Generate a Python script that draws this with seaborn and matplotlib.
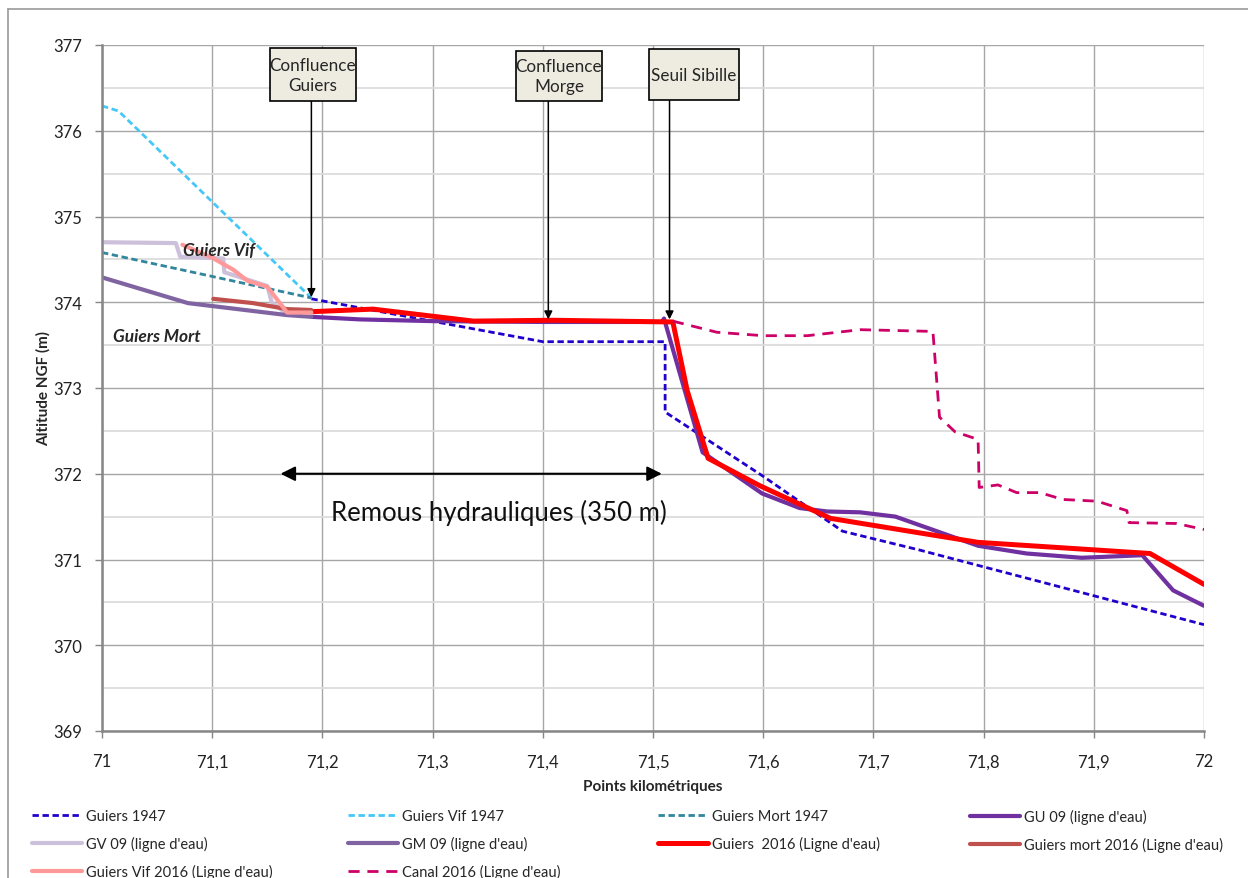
import numpy as np
import pandas as pd
import seaborn as sns
import matplotlib.pyplot as plt
from matplotlib.ticker import MultipleLocator, FuncFormatter
from matplotlib.lines import Line2D
from matplotlib.patches import Rectangle

# %% data
guiers_1947_pk = [71.19, 71.40, 71.511, 71.511, 71.60, 71.672, 71.742, 72.0]
guiers_1947_z = [374.04, 373.54, 373.54, 372.72, 371.97, 371.33, 371.11, 370.24]

vif_1947_pk = [71.0, 71.015, 71.19]
vif_1947_z = [376.29, 376.23, 374.05]

mort_1947_pk = [71.0, 71.19]
mort_1947_z = [374.58, 374.05]

gu09_pk = [71.19, 71.234, 71.30, 71.40, 71.508, 71.51, 71.545, 71.599, 71.633, 71.658,
           71.688, 71.72, 71.795, 71.839, 71.889, 71.944, 71.972, 72.0]
gu09_z = [373.83, 373.80, 373.78, 373.77, 373.77, 373.81, 372.25, 371.77, 371.60, 371.56,
          371.55, 371.50, 371.16, 371.07, 371.02, 371.05, 370.64, 370.46]

gv09_pk = [71.0, 71.067, 71.071, 71.110, 71.111, 71.150, 71.154, 71.166]
gv09_z = [374.70, 374.69, 374.53, 374.51, 374.35, 374.19, 374.0, 373.88]

gm09_pk = [71.0, 71.078, 71.168, 71.19]
gm09_z = [374.29, 373.99, 373.85, 373.83]

guiers_2016_pk = [71.19, 71.246, 71.337, 71.409, 71.518, 71.531, 71.55, 71.597, 71.661,
                  71.742, 71.795, 71.951, 72.0]
guiers_2016_z = [373.89, 373.92, 373.78, 373.79, 373.77, 372.97, 372.18, 371.86, 371.48,
                 371.31, 371.20, 371.07, 370.71]

mort_2016_pk = [71.101, 71.137, 71.168, 71.19]
mort_2016_z = [374.04, 373.99, 373.92, 373.91]

vif_2016_pk = [71.073, 71.100, 71.119, 71.132, 71.150, 71.168, 71.19]
vif_2016_z = [374.67, 374.52, 374.38, 374.25, 374.18, 373.88, 373.88]

canal_2016_pk = [71.518, 71.558, 71.60, 71.64, 71.688, 71.754, 71.76, 71.774, 71.795, 71.796,
                 71.813, 71.830, 71.851, 71.872, 71.903, 71.930, 71.932, 71.975, 72.0]
canal_2016_z = [373.78, 373.65, 373.61, 373.61, 373.68, 373.66, 372.66, 372.49, 372.40, 371.84,
                371.87, 371.78, 371.78, 371.70, 371.68, 371.57, 371.43, 371.42, 371.35]

series = [
    # label, pk, z, colour, width, dashes
    ("Guiers 1947", guiers_1947_pk, guiers_1947_z, "#2200cc", 2.0, (2.3, 1.3)),
    ("Guiers Vif 1947", vif_1947_pk, vif_1947_z, "#45c8f7", 2.0, (2.3, 1.3)),
    ("Guiers Mort 1947", mort_1947_pk, mort_1947_z, "#31859c", 2.0, (2.3, 1.3)),
    ("GU 09 (ligne d'eau)", gu09_pk, gu09_z, "#7030a0", 3.0, None),
    ("GV 09 (ligne d'eau)", gv09_pk, gv09_z, "#ccc0da", 3.0, None),
    ("GM 09 (ligne d'eau)", gm09_pk, gm09_z, "#8064a2", 3.0, None),
    ("Guiers  2016 (Ligne d'eau)", guiers_2016_pk, guiers_2016_z, "#ff0000", 3.6, None),
    ("Guiers mort 2016 (Ligne d'eau)", mort_2016_pk, mort_2016_z, "#c0504d", 3.0, None),
    ("Guiers Vif 2016 (Ligne d'eau)", vif_2016_pk, vif_2016_z, "#ff9999", 3.0, None),
    ("Canal 2016 (Ligne d'eau)", canal_2016_pk, canal_2016_z, "#cc0066", 2.0, (4.0, 2.8)),
]

# %% figure
sns.set_theme(style="white")
plt.rcParams['font.family'] = ['Lato', 'DejaVu Sans']

fig = plt.figure(figsize=(12.48, 8.79), dpi=100)
ax = fig.add_axes([102 / 1248, 1 - 732 / 879, (1204 - 102) / 1248, (732 - 46) / 879])

handles = {}
for label, pk, z, col, lw, dsh in series:
    df = pd.DataFrame({"pk": pk, "z": z})
    sns.lineplot(data=df, x="pk", y="z", ax=ax, color=col, linewidth=lw,
                 estimator=None, sort=False, legend=False)
    ln = ax.lines[-1]
    if dsh:
        ln.set_dashes(dsh)
    handles[label] = ln

ax.set_xlim(71, 72)
ax.set_ylim(369, 377)
ax.xaxis.set_major_locator(MultipleLocator(0.1))
ax.yaxis.set_major_locator(MultipleLocator(1))
ax.yaxis.set_minor_locator(MultipleLocator(0.5))
ax.xaxis.set_major_formatter(FuncFormatter(
    lambda v, p: f"{v:.1f}".rstrip("0").rstrip(".").replace(".", ",")))
ax.grid(which="major", axis="both", color="#a6a6a6", lw=1.0)
ax.grid(which="minor", axis="y", color="#dcdcdc", lw=1.3)
ax.set_axisbelow(True)
for s in ["top", "right"]:
    ax.spines[s].set_visible(False)
for s in ["left", "bottom"]:
    ax.spines[s].set_color("#868686")
    ax.spines[s].set_linewidth(1.8)
ax.tick_params(which="major", direction="out", length=5, width=1, color="#868686",
               labelsize=12, labelcolor="#222222", left=True, bottom=True)
ax.tick_params(axis="x", pad=11)
ax.tick_params(axis="y", pad=9)
ax.tick_params(which="minor", length=0)

ax.set_xlabel("Points kilométriques", fontsize=11, fontweight="bold")
ax.set_ylabel("Altitude NGF (m)", fontsize=11, fontweight="bold")
ax.xaxis.set_label_coords(0.5, -0.07)
ax.yaxis.set_label_coords(-0.047, 0.5)

# annotation boxes (x0, x1, y0, y1 in data units) with vertical arrows
notes = [
    ("Confluence\nGuiers", (71.1525, 71.2305, 376.345, 376.965), 71.19, 374.06),
    ("Confluence\nMorge", (71.3757, 71.4537, 376.345, 376.93), 71.405, 373.80),
    ("Seuil Sibille", (71.4964, 71.578, 376.357, 376.953), 71.515, 373.80),
]
for txt, (x0, x1, y0, y1), arr_x, arr_y in notes:
    ax.annotate("", xy=(arr_x, arr_y), xytext=(arr_x, y0),
                arrowprops=dict(arrowstyle="-|>", color="black", lw=1.1,
                                mutation_scale=12, shrinkA=0, shrinkB=0), zorder=5)
    ax.add_patch(Rectangle((x0, y0), x1 - x0, y1 - y0, fc="#eeece1", ec="black",
                           lw=1.2, zorder=6, clip_on=False))
    ax.text((x0 + x1) / 2, (y0 + y1) / 2, txt, ha="center", va="center",
            fontsize=12.3, linespacing=1.3, zorder=7)

ax.annotate("", xy=(71.162, 372.0), xytext=(71.508, 372.0),
            arrowprops=dict(arrowstyle="<|-|>", color="black", lw=1.5,
                            mutation_scale=22, shrinkA=0, shrinkB=0))
ax.text(71.36, 371.55, "Remous hydrauliques (350 m)", ha="center", va="center",
        fontsize=18.5, color="#111111")
ax.text(71.0735, 374.61, "Guiers Vif", fontsize=12.5, fontweight="bold",
        fontstyle="italic", va="center", ha="left")
ax.text(71.01, 373.61, "Guiers Mort", fontsize=12.5, fontweight="bold",
        fontstyle="italic", va="center", ha="left")

# legend: 4 fixed columns, row-major reading order as in the original
order = [label for label, *_ in series]
columns = [order[0::4], order[1::4], order[2::4], order[3::4]]
col_x = [32, 348, 658, 970]
for xs, labs in zip(col_x, columns):
    fig.legend([handles[l] for l in labs], labs, loc="upper left",
               bbox_to_anchor=(xs / 1248, 1 - 810 / 879), frameon=False,
               fontsize=10.5, handlelength=3.4, handletextpad=0.3,
               labelspacing=0.9, borderpad=0, borderaxespad=0)

# chart frame
fig.add_artist(Line2D([8 / 1248, 8 / 1248], [0, 1 - 10 / 879], color="#999999", lw=1.2))
fig.add_artist(Line2D([8 / 1248, 1], [1 - 10 / 879, 1 - 10 / 879], color="#999999", lw=1.2))

fig.savefig("out.png", dpi=100)
